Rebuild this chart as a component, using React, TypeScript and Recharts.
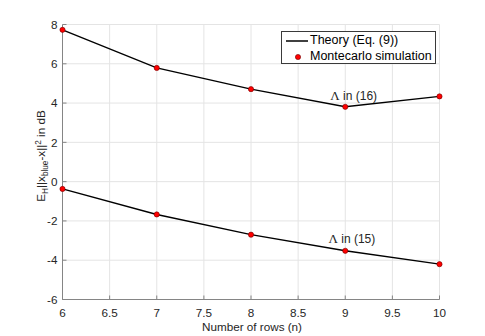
import React from 'react';
import {
  ComposedChart,
  Line,
  Scatter,
  XAxis,
  YAxis,
  CartesianGrid,
  Legend,
} from 'recharts';

// ---- data ----
const rows = [6, 7, 8, 9, 10];
const theoryEq16 = [7.73, 5.79, 4.71, 3.81, 4.34];
const theoryEq15 = [-0.37, -1.67, -2.7, -3.52, -4.2];
const simEq16 = [7.73, 5.79, 4.71, 3.81, 4.34];
const simEq15 = [-0.37, -1.67, -2.7, -3.52, -4.2];
const xTicks = [6, 6.5, 7, 7.5, 8, 8.5, 9, 9.5, 10];
const yTicks = [-6, -4, -2, 0, 2, 4, 6, 8];
const annotationX = [9.09, 9.07];
const annotationY = [4.36, -2.93];
const annotationText = ['in (16)', 'in (15)'];

const lineData = rows.map((n, i) => ({ n, t16: theoryEq16[i], t15: theoryEq15[i] }));
const sim16Data = rows.map((n, i) => ({ n, v: simEq16[i] }));
const sim15Data = rows.map((n, i) => ({ n, v: simEq15[i] }));
const annotationData = annotationX.map((n, i) => ({ n, v: annotationY[i], text: annotationText[i] }));

const FONT = '"Liberation Sans", Arial, Helvetica, sans-serif';
const TEXT = '#262626';
const FRAME = '#858585';
const FS = 11.7;
const PLOT_LEFT = 62.5;
const PLOT_BOTTOM = 299.5;

const XTick = (props: any) => {
  const { x, payload } = props;
  return (
    <g>
      <line x1={x} x2={x} y1={PLOT_BOTTOM} y2={PLOT_BOTTOM - 4} stroke={FRAME} strokeWidth={1} />
      <text x={x} y={PLOT_BOTTOM + 17} textAnchor="middle" fill={TEXT} fontSize={FS} fontFamily={FONT}>
        {payload.value}
      </text>
    </g>
  );
};

const YTick = (props: any) => {
  const { y, payload } = props;
  return (
    <g>
      <line x1={PLOT_LEFT} x2={PLOT_LEFT + 4} y1={y} y2={y} stroke={FRAME} strokeWidth={1} />
      <text x={PLOT_LEFT - 5} y={y + 4.2} textAnchor="end" fill={TEXT} fontSize={FS} fontFamily={FONT}>
        {payload.value}
      </text>
    </g>
  );
};

const XLabel = () => (
  <text x={252} y={331} textAnchor="middle" fill={TEXT} fontSize={FS} fontFamily={FONT}>
    Number of rows (n)
  </text>
);

const YLabel = () => {
  const sub = 8.2;
  return (
    <text
      x={45}
      y={156}
      transform="rotate(-90, 45, 156)"
      textAnchor="middle"
      fill={TEXT}
      fontSize={FS}
      fontFamily={FONT}
    >
      <tspan>E</tspan>
      <tspan fontSize={sub} dy={3}>H</tspan>
      <tspan dy={-3}>||x</tspan>
      <tspan fontSize={sub} dy={3}>blue</tspan>
      <tspan dy={-3}>-x||</tspan>
      <tspan fontSize={sub} dy={-4.5}>2</tspan>
      <tspan dy={4.5}>{' in dB'}</tspan>
    </text>
  );
};

const SimDot = (props: any) => {
  const { cx, cy } = props;
  return <circle cx={cx} cy={cy} r={2.6} fill="#ff0000" stroke="#6e0000" strokeWidth={0.6} />;
};

const AnnotationShape = (props: any) => {
  const { cx, cy, payload } = props;
  return (
    <text x={cx} y={cy + 4.3} textAnchor="middle" fill={TEXT} fontSize={12} fontFamily={FONT}>
      <tspan fontFamily='"Liberation Serif", "DejaVu Serif", serif' fontSize={13}>Λ</tspan>
      <tspan>{' ' + payload.text}</tspan>
    </text>
  );
};

const LegendBox = () => (
  <div
    style={{
      boxSizing: 'border-box',
      width: 155,
      height: 33,
      border: '1px solid #3a3a3a',
      background: '#fff',
      fontFamily: FONT,
      fontSize: 12.5,
      color: '#000',
      lineHeight: '15.5px',
      paddingTop: 1,
    }}
  >
    <div style={{ display: 'flex', alignItems: 'center', height: 15.5 }}>
      <svg width={28} height={15.5} style={{ flex: 'none' }}>
        <line x1={4} x2={26} y1={8} y2={8} stroke="#000" strokeWidth={1.5} />
      </svg>
      <span>Theory (Eq. (9))</span>
    </div>
    <div style={{ display: 'flex', alignItems: 'center', height: 15.5 }}>
      <svg width={28} height={15.5} style={{ flex: 'none' }}>
        <circle cx={16} cy={8} r={2.6} fill="#ff0000" stroke="#6e0000" strokeWidth={0.6} />
      </svg>
      <span>Montecarlo simulation</span>
    </div>
  </div>
);

export default function App() {
  return (
    <div style={{ width: 485, height: 336, background: '#fff' }}>
      <style>{'body{margin:0;background:#fff}'}</style>
      <ComposedChart
        width={485}
        height={336}
        data={lineData}
        margin={{ top: 24.5, right: 45.5, bottom: 0, left: 0 }}
      >
        <CartesianGrid stroke="#e4e4e4" strokeWidth={1} />
        <XAxis
          dataKey="n"
          type="number"
          domain={[6, 10]}
          ticks={xTicks}
          interval={0}
          height={36.5}
          tickSize={0}
          tickMargin={8}
          tickLine={false}
          axisLine={{ stroke: FRAME, strokeWidth: 1 }}
          tick={<XTick />}
          label={<XLabel />}
        />
        <XAxis
          xAxisId="top"
          orientation="top"
          dataKey="n"
          type="number"
          domain={[6, 10]}
          ticks={xTicks}
          interval={0}
          height={0}
          mirror
          tick={false}
          tickSize={4}
          tickLine={{ stroke: FRAME, strokeWidth: 1 }}
          axisLine={{ stroke: FRAME, strokeWidth: 1 }}
        />
        <YAxis
          type="number"
          domain={[-6, 8]}
          ticks={yTicks}
          interval={0}
          width={62.5}
          tickSize={0}
          tickMargin={5}
          tickLine={false}
          axisLine={{ stroke: FRAME, strokeWidth: 1 }}
          tick={<YTick />}
          label={<YLabel />}
        />
        <YAxis
          yAxisId="right"
          orientation="right"
          type="number"
          domain={[-6, 8]}
          ticks={yTicks}
          interval={0}
          width={0}
          mirror
          tick={false}
          tickSize={4}
          tickLine={{ stroke: FRAME, strokeWidth: 1 }}
          axisLine={{ stroke: FRAME, strokeWidth: 1 }}
        />
        <Legend
          content={<LegendBox />}
          layout="horizontal"
          verticalAlign="middle"
          align="center"
          wrapperStyle={{ position: 'absolute', left: 281, top: 31, width: 155, height: 33 }}
        />
        <Line
          dataKey="t16"
          name="Theory (Eq. (9))"
          stroke="#000"
          strokeWidth={1.4}
          dot={false}
          activeDot={false}
          isAnimationActive={false}
        />
        <Line
          dataKey="t15"
          name="Theory (Eq. (9)) 15"
          stroke="#000"
          strokeWidth={1.4}
          dot={false}
          activeDot={false}
          isAnimationActive={false}
          legendType="none"
        />
        <Scatter
          data={sim16Data}
          dataKey="v"
          name="Montecarlo simulation"
          shape={<SimDot />}
          isAnimationActive={false}
        />
        <Scatter
          data={sim15Data}
          dataKey="v"
          name="Montecarlo simulation 15"
          shape={<SimDot />}
          isAnimationActive={false}
          legendType="none"
        />
        <Scatter
          data={annotationData}
          dataKey="v"
          name="annotations"
          shape={<AnnotationShape />}
          isAnimationActive={false}
          legendType="none"
        />
      </ComposedChart>
    </div>
  );
}
